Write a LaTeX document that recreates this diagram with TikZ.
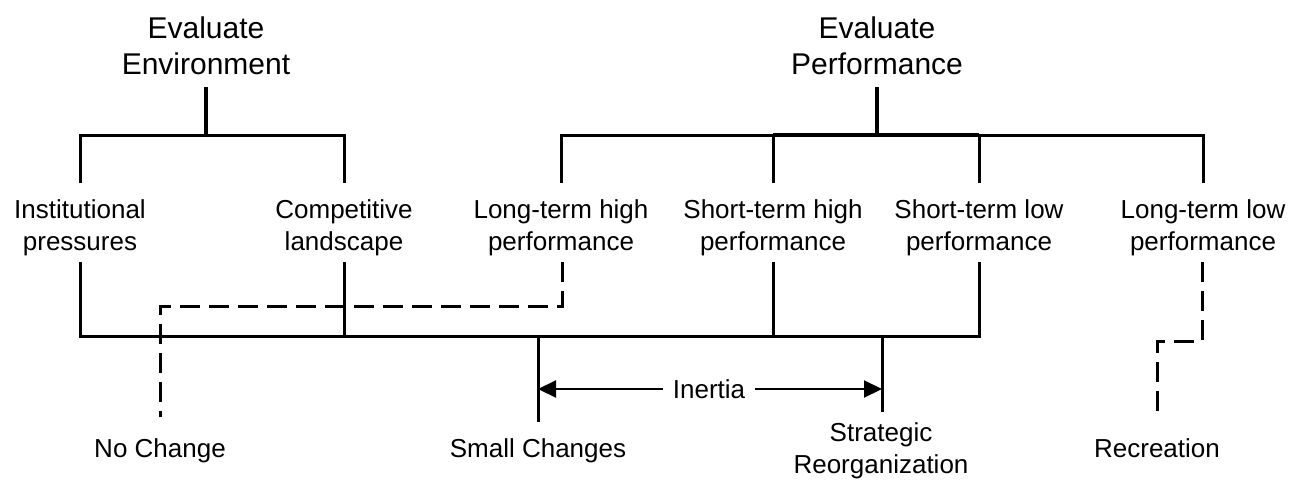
\documentclass[tikz,border=0pt]{standalone}
\usepackage{fontspec}
\setmainfont{Liberation Sans}
\usetikzlibrary{arrows.meta}
\begin{document}
\begin{tikzpicture}[x=1pt,y=-1pt,
  lbl/.style={align=center,inner sep=0pt,font=\fontsize{26}{32}\selectfont},
  one/.style={inner sep=0pt,anchor=base,font=\fontsize{26}{32}\selectfont},
  ttl/.style={align=center,inner sep=0pt,font=\fontsize{30}{36}\selectfont},
  ln/.style={line width=3pt},
  thk/.style={line width=4.2pt},
  dsh/.style={line width=3pt,dash pattern=on 20pt off 9pt},
  tip/.style={{Triangle[length=18pt,width=17pt]}-{Triangle[length=18pt,width=17pt]}}
  ]
\useasboundingbox (0,0) rectangle (1306,487);
% titles
\node[ttl] (env) at (206,46) {Evaluate\\Environment};
\node[ttl] (perf) at (877,46) {Evaluate\\Performance};
% middle labels
\node[lbl] (inst) at (80,228) {Institutional\\pressures};
\node[lbl] (comp) at (344,228) {Competitive\\landscape};
\node[lbl] (lth) at (561,228) {Long-term high\\performance};
\node[lbl] (sth) at (773,228) {Short-term high\\performance};
\node[lbl] (stl) at (979,228) {Short-term low\\performance};
\node[lbl] (ltl) at (1203,228) {Long-term low\\performance};
% bottom labels
\node[one] (nc) at (160,457) {No Change};
\node[one] (smc) at (538,457) {Small Changes};
\node[lbl] (sro) at (881,451) {Strategic\\Reorganization};
\node[one] (rec) at (1157,457) {Recreation};
% junction coordinates
\coordinate (envA) at (206,87);
\coordinate (envJ) at (206,135);
\coordinate (instT) at (80,135);
\coordinate (instA) at (80,183);
\coordinate (compT) at (344,135);
\coordinate (compA) at (344,183);
\coordinate (perfA) at (877,87);
\coordinate (perfJ) at (877,135);
\coordinate (lthT) at (561,135);
\coordinate (lthA) at (561,183);
\coordinate (sthT) at (773,135);
\coordinate (sthA) at (773,183);
\coordinate (stlT) at (979,135);
\coordinate (stlA) at (979,183);
\coordinate (ltlT) at (1203,135);
\coordinate (ltlA) at (1203,183);
% lower tree
\coordinate (instB) at (80,262);
\coordinate (instM) at (80,336);
\coordinate (compB) at (344,262);
\coordinate (compM) at (344,336);
\coordinate (sthB) at (773,262);
\coordinate (sthM) at (773,336);
\coordinate (stlB) at (979,262);
\coordinate (stlM) at (979,336);
\coordinate (smcM) at (538,336);
\coordinate (smcE) at (538,422);
\coordinate (sroM) at (882,336);
\coordinate (sroE) at (882,412);
\coordinate (arL) at (538,389);
\coordinate (arR) at (882,389);
% dashed paths
\coordinate (lthB) at (562,262);
\coordinate (lthC) at (562,306);
\coordinate (ncC) at (160,306);
\coordinate (ncE) at (160,417);
\coordinate (ltlB) at (1202,262);
\coordinate (ltlC) at (1202,341);
\coordinate (recC) at (1157,341);
\coordinate (recE) at (1157,420);
% upper trees
\draw[thk] (envA) -- (envJ);
\draw[ln] (instA) -- (instT) -- (compT) -- (compA);
\draw[thk] (perfA) -- (perfJ);
\draw[ln] (lthA) -- (lthT) -- (ltlT) -- (ltlA);
\draw[thk] (sthT) -- (stlT);
\draw[ln] (sthT) -- (sthA);
\draw[ln] (stlT) -- (stlA);
% lower tree
\draw[ln] (instB) -- (instM) -- (stlM) -- (stlB);
\draw[ln] (compB) -- (compM);
\draw[ln] (sthB) -- (sthM);
\draw[ln] (smcM) -- (smcE);
\draw[ln] (sroM) -- (sroE);
\draw[line width=2.2pt,tip] (arL) -- (arR);
\node[one,fill=white,inner xsep=9.5pt,inner ysep=3pt] (inertia) at (709,398) {Inertia};
% dashed
\draw[dsh] (lthB) -- (lthC) -- (ncC) -- (ncE);
\draw[dsh] (ltlB) -- (ltlC) -- (recC) -- (recE);
\end{tikzpicture}
\end{document}
